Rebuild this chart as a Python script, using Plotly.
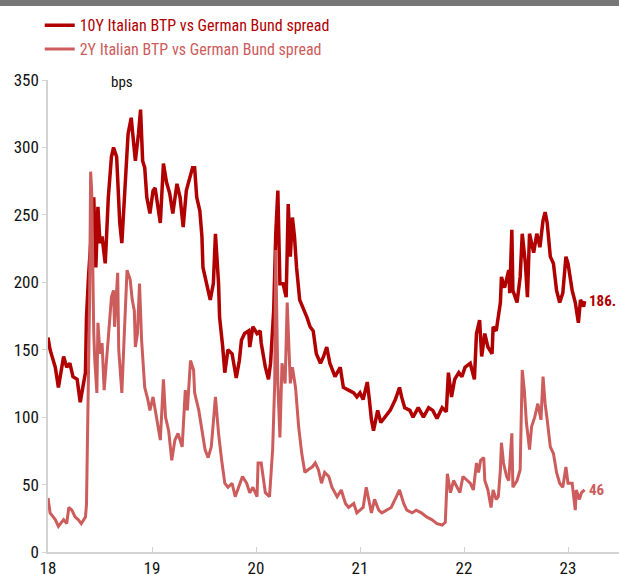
import plotly.graph_objects as go

# time in years (18 = Jan 2018), values in bps
t_10y = [18.00, 18.02, 18.07, 18.10, 18.15, 18.18, 18.21, 18.24, 18.28, 18.31, 18.33, 18.36, 18.37, 18.39,
         18.44, 18.46, 18.48, 18.50, 18.52, 18.55, 18.56, 18.58, 18.61, 18.63, 18.66, 18.68, 18.69, 18.71,
         18.74, 18.76, 18.77, 18.80, 18.82, 18.84, 18.87, 18.89, 18.91, 18.93, 18.95, 18.98, 19.01, 19.03,
         19.08, 19.11, 19.14, 19.17, 19.20, 19.24, 19.27, 19.30, 19.33, 19.37, 19.39, 19.41, 19.43, 19.46,
         19.48, 19.49, 19.53, 19.56, 19.59, 19.61, 19.64, 19.65, 19.68, 19.70, 19.73, 19.77, 19.81, 19.84,
         19.86, 19.89, 19.93, 19.94, 19.97, 20.01, 20.04, 20.05, 20.09, 20.12, 20.14, 20.17, 20.19, 20.21,
         20.23, 20.26, 20.29, 20.31, 20.33, 20.35, 20.37, 20.39, 20.42, 20.45, 20.49, 20.52, 20.55, 20.58,
         20.62, 20.65, 20.68, 20.71, 20.76, 20.81, 20.84, 20.89, 20.94, 20.97, 21.00, 21.03, 21.05, 21.07,
         21.09, 21.11, 21.13, 21.17, 21.20, 21.24, 21.29, 21.34, 21.38, 21.40, 21.43, 21.48, 21.51, 21.56,
         21.61, 21.66, 21.70, 21.74, 21.79, 21.83, 21.85, 21.88, 21.91, 21.95, 21.98, 22.01, 22.06, 22.10,
         22.12, 22.15, 22.17, 22.20, 22.23, 22.27, 22.28, 22.31, 22.35, 22.36, 22.39, 22.43, 22.44, 22.46,
         22.47, 22.51, 22.54, 22.56, 22.59, 22.61, 22.63, 22.67, 22.70, 22.73, 22.76, 22.78, 22.80, 22.83,
         22.86, 22.89, 22.92, 22.95, 22.98, 23.00, 23.04, 23.07, 23.10, 23.12, 23.15, 23.16]
v_10y = [159, 150, 137, 122, 145, 137, 140, 130, 128, 111, 120, 133, 174, 205,
         263, 211, 256, 229, 234, 214, 229, 263, 293, 300, 293, 258, 244, 229,
         273, 303, 310, 322, 303, 290, 310, 328, 290, 285, 263, 251, 268, 270,
         244, 288, 274, 266, 251, 273, 263, 241, 268, 278, 285, 285, 263, 253,
         234, 211, 196, 187, 199, 236, 199, 174, 152, 133, 150, 147, 129, 142,
         157, 162, 164, 152, 167, 162, 164, 155, 137, 128, 140, 179, 236, 268,
         199, 199, 189, 258, 219, 248, 234, 211, 187, 182, 174, 167, 164, 147,
         140, 145, 152, 140, 130, 137, 122, 120, 118, 115, 118, 113, 120, 126,
         113, 98, 90, 105, 96, 100, 105, 113, 122, 115, 107, 105, 100, 107,
         100, 107, 105, 99, 107, 104, 133, 115, 128, 133, 130, 137, 140, 128,
         162, 172, 145, 162, 152, 147, 167, 164, 185, 204, 196, 209, 192, 239,
         194, 185, 204, 236, 214, 189, 236, 222, 236, 226, 246, 252, 244, 219,
         214, 194, 185, 192, 219, 214, 194, 185, 170, 187, 182, 186]

t_2y = [18.00, 18.02, 18.07, 18.10, 18.15, 18.18, 18.20, 18.23, 18.26, 18.29, 18.32, 18.36, 18.37, 18.38,
        18.40, 18.41, 18.42, 18.44, 18.45, 18.47, 18.48, 18.50, 18.52, 18.54, 18.56, 18.58, 18.61, 18.63,
        18.64, 18.67, 18.68, 18.71, 18.73, 18.76, 18.79, 18.81, 18.83, 18.84, 18.86, 18.88, 18.90, 18.92,
        18.93, 18.96, 18.98, 19.01, 19.05, 19.08, 19.11, 19.13, 19.16, 19.19, 19.22, 19.25, 19.29, 19.32,
        19.34, 19.37, 19.40, 19.41, 19.45, 19.48, 19.51, 19.54, 19.57, 19.61, 19.64, 19.67, 19.70, 19.73,
        19.77, 19.80, 19.83, 19.87, 19.91, 19.94, 19.97, 20.01, 20.02, 20.05, 20.09, 20.13, 20.16, 20.18,
        20.19, 20.21, 20.23, 20.25, 20.28, 20.30, 20.33, 20.35, 20.38, 20.41, 20.44, 20.47, 20.50, 20.54,
        20.57, 20.60, 20.63, 20.66, 20.70, 20.73, 20.78, 20.82, 20.86, 20.89, 20.94, 20.97, 21.00, 21.03,
        21.06, 21.09, 21.11, 21.14, 21.18, 21.21, 21.26, 21.30, 21.35, 21.38, 21.42, 21.45, 21.50, 21.54,
        21.59, 21.64, 21.69, 21.74, 21.79, 21.82, 21.84, 21.87, 21.90, 21.93, 21.96, 21.99, 22.03, 22.06,
        22.09, 22.12, 22.14, 22.16, 22.19, 22.20, 22.23, 22.26, 22.28, 22.31, 22.33, 22.35, 22.36, 22.38,
        22.41, 22.43, 22.46, 22.47, 22.51, 22.54, 22.56, 22.58, 22.60, 22.63, 22.65, 22.68, 22.71, 22.74,
        22.76, 22.78, 22.80, 22.83, 22.86, 22.89, 22.92, 22.95, 22.98, 23.00, 23.04, 23.07, 23.08, 23.11,
        23.13, 23.16]
v_2y = [40, 29, 24, 19, 24, 21, 33, 31, 26, 24, 21, 26, 35, 88,
        187, 282, 268, 162, 142, 118, 170, 147, 155, 120, 137, 159, 189, 194,
        167, 207, 150, 118, 155, 209, 202, 187, 179, 152, 162, 199, 157, 137,
        122, 113, 105, 115, 96, 83, 128, 100, 90, 68, 83, 88, 78, 120,
        105, 142, 135, 118, 105, 90, 76, 70, 78, 115, 88, 68, 51, 48,
        51, 41, 48, 56, 51, 44, 48, 41, 66, 66, 44, 41, 76, 125,
        224, 125, 85, 140, 125, 185, 125, 137, 122, 93, 73, 59, 61, 63,
        66, 61, 51, 59, 56, 48, 41, 46, 36, 33, 36, 29, 31, 33,
        48, 36, 29, 39, 31, 29, 31, 33, 41, 46, 36, 31, 29, 31,
        29, 26, 24, 21, 20, 22, 58, 44, 53, 48, 44, 56, 53, 51,
        46, 66, 59, 68, 70, 53, 46, 33, 46, 39, 41, 61, 81, 66,
        56, 53, 88, 48, 53, 61, 135, 120, 96, 76, 93, 100, 110, 98,
        130, 110, 98, 78, 73, 59, 51, 48, 63, 51, 51, 31, 46, 39,
        44, 46]

x_ticks = [18, 19, 20, 21, 22, 23]
y_ticks = [0, 50, 100, 150, 200, 250, 300, 350]
name_10y = "10Y Italian BTP vs German Bund spread"
name_2y = "2Y Italian BTP vs German Bund spread"
label_10y = "186."
label_2y = "46"

C10 = "#b00000"
C2 = "#cd5c5c"
FONT = "Roboto Condensed, Arial Narrow, Roboto, sans-serif"

fig = go.Figure()
fig.add_trace(go.Scatter(x=t_10y, y=v_10y, mode="lines",
                         line=dict(color=C10, width=3.5),
                         name=f"<span style='color:{C10}'>{name_10y}</span>"))
fig.add_trace(go.Scatter(x=t_2y, y=v_2y, mode="lines",
                         line=dict(color=C2, width=3),
                         name=f"<span style='color:{C2}'>{name_2y}</span>"))

fig.add_annotation(x=t_10y[-1], y=v_10y[-1], text=f"<b>{label_10y}</b>", showarrow=False,
                   xanchor="left", xshift=2, font=dict(color=C10, size=15, family=FONT))
fig.add_annotation(x=t_2y[-1], y=v_2y[-1], text=f"<b>{label_2y}</b>", showarrow=False,
                   xanchor="left", xshift=2, font=dict(color=C2, size=15, family=FONT))
fig.add_annotation(x=0.13, xref="paper", y=350, yref="y", text="bps", showarrow=False,
                   xanchor="center", yanchor="middle", yshift=-2,
                   font=dict(color="#111111", size=15, family=FONT))

fig.add_shape(type="rect", xref="paper", yref="paper", x0=-0.1, x1=1.0,
              y0=(552 - 0) / 472, y1=(552 - 6) / 472, fillcolor="#777777", line=dict(width=0))

fig.update_layout(
    width=619, height=575,
    margin=dict(l=48, r=0, t=80, b=23, autoexpand=False),
    paper_bgcolor="white", plot_bgcolor="white",
    font=dict(family=FONT, size=16, color="#111111"),
    showlegend=True,
    legend=dict(x=-0.0145, xanchor="left", y=1.152, yanchor="top",
                bgcolor="rgba(0,0,0,0)", font=dict(size=16, family=FONT),
                tracegroupgap=0, itemwidth=30),
    xaxis=dict(range=[18, 18 + 571 / 104], tickvals=x_ticks, showgrid=False, zeroline=False,
               showline=True, linecolor="#d3d3d3", linewidth=1.5, automargin=False,
               ticks="inside", ticklen=5, tickcolor="#d3d3d3",
               tickfont=dict(size=17, family=FONT, color="#111111")),
    yaxis=dict(range=[0, 350], tickvals=y_ticks, showgrid=False, zeroline=False,
               showline=True, linecolor="#d3d3d3", linewidth=1.5, automargin=False,
               ticks="outside", ticklen=4, tickcolor="#d3d3d3",
               tickfont=dict(size=17, family=FONT, color="#111111")),
    hovermode=False,
)

fig.write_html("out.html", config={"displayModeBar": False},
               post_script="document.body.style.margin='0';")
